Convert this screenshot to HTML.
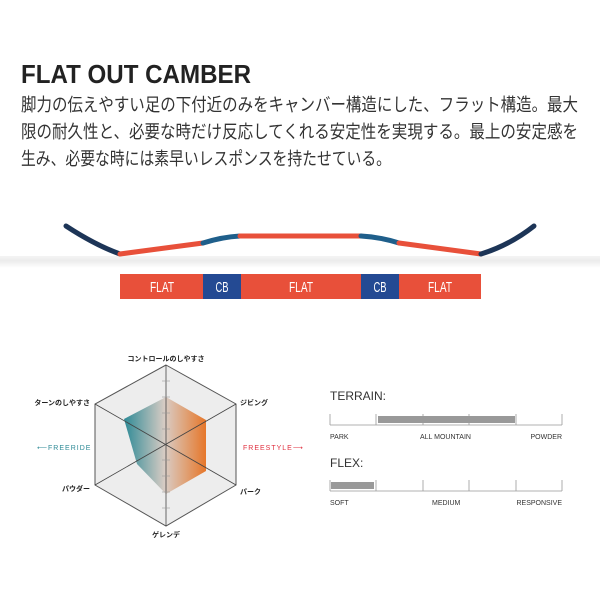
<!DOCTYPE html>
<html><head><meta charset="utf-8"><style>
html,body{margin:0;padding:0;background:#fff;}
svg{display:block;}
</style></head><body>
<svg width="600" height="600" viewBox="0 0 600 600" xmlns="http://www.w3.org/2000/svg">
<defs>
<linearGradient id="g" x1="124" y1="0" x2="206" y2="0" gradientUnits="userSpaceOnUse">
<stop offset="0" stop-color="#2e8a96"/>
<stop offset="0.5" stop-color="#d9ccc4"/>
<stop offset="1" stop-color="#e6772a"/>
</linearGradient>
<linearGradient id="sh" x1="0" y1="0" x2="0" y2="1">
<stop offset="0" stop-color="#f4f4f4"/><stop offset="0.4" stop-color="#ececec"/><stop offset="1" stop-color="#fff"/>
</linearGradient>
</defs>
<g font-family="'Liberation Sans','Noto Sans CJK JP',sans-serif">
<text x="21" y="83" font-size="26" font-weight="bold" fill="#222" textLength="230" lengthAdjust="spacingAndGlyphs">FLAT OUT CAMBER</text>
<g font-size="18" fill="#333">
<text x="21" y="111" textLength="557" lengthAdjust="spacingAndGlyphs">脚力の伝えやすい足の下付近のみをキャンバー構造にした、フラット構造。最大</text>
<text x="21" y="138" textLength="557" lengthAdjust="spacingAndGlyphs">限の耐久性と、必要な時だけ反応してくれる安定性を実現する。最上の安定感を</text>
<text x="21" y="165" textLength="370" lengthAdjust="spacingAndGlyphs">生み、必要な時には素早いレスポンスを持たせている。</text>
</g>
</g>
<!-- board profile -->
<rect x="0" y="256" width="600" height="12" fill="url(#sh)"/>
<g fill="none" stroke-width="5" stroke-linecap="round">
<path d="M66,226 Q95,245 120,254" stroke="#1d3557"/>
<path d="M120,254 L203,243" stroke="#e8503a"/>
<path d="M203,243 Q222,237 240,236" stroke="#1f5f8b"/>
<path d="M240,236 L361,236" stroke="#e8503a"/>
<path d="M361,236 Q380,237 399,243" stroke="#1f5f8b"/>
<path d="M399,243 L481,254" stroke="#e8503a"/>
<path d="M481,254 Q510,245 534,226" stroke="#1d3557"/>
</g>
<g font-family="'Liberation Sans',sans-serif" font-size="15" fill="#fff" text-anchor="middle">
<rect x="120" y="274" width="83" height="25" fill="#e8503a"/>
<rect x="203" y="274" width="38" height="25" fill="#244a93"/>
<rect x="241" y="274" width="120" height="25" fill="#e8503a"/>
<rect x="361" y="274" width="38" height="25" fill="#244a93"/>
<rect x="399" y="274" width="82" height="25" fill="#e8503a"/>
<text x="162" y="292" textLength="24" lengthAdjust="spacingAndGlyphs">FLAT</text>
<text x="222" y="292" textLength="13" lengthAdjust="spacingAndGlyphs">CB</text>
<text x="301" y="292" textLength="24" lengthAdjust="spacingAndGlyphs">FLAT</text>
<text x="380" y="292" textLength="13" lengthAdjust="spacingAndGlyphs">CB</text>
<text x="440" y="292" textLength="24" lengthAdjust="spacingAndGlyphs">FLAT</text>
</g>
<!-- radar -->
<polygon points="166,365 236,404 236,485 166,526 95,485 95,404" fill="#ededed" stroke="#555" stroke-width="1"/>
<polygon points="166,397 206,420 206,471 166,494 137,464 124,419" fill="url(#g)"/>
<g stroke="#444" stroke-width="0.8">
<line x1="166" y1="365" x2="166" y2="526"/>
<line x1="95" y1="404" x2="236" y2="485"/>
<line x1="236" y1="404" x2="95" y2="485"/>
</g>
<g stroke="#999" stroke-width="0.6">
<line x1="162" y1="381" x2="170" y2="381"/><line x1="162" y1="397" x2="170" y2="397"/><line x1="162" y1="413" x2="170" y2="413"/><line x1="162" y1="429" x2="170" y2="429"/>
<line x1="162" y1="460" x2="170" y2="460"/><line x1="162" y1="476" x2="170" y2="476"/><line x1="162" y1="492" x2="170" y2="492"/><line x1="162" y1="508" x2="170" y2="508"/>
</g>
<g font-family="'Liberation Sans','Noto Sans CJK JP',sans-serif" font-size="7" fill="#222" font-weight="bold">
<text x="166" y="361" text-anchor="middle">コントロールのしやすさ</text>
<text x="240" y="405">ジビング</text>
<text x="240" y="494">パーク</text>
<text x="166" y="537" text-anchor="middle">ゲレンデ</text>
<text x="90" y="491" text-anchor="end">パウダー</text>
<text x="90" y="405" text-anchor="end">ターンのしやすさ</text>
<text x="37" y="450" fill="#2e8a96" font-weight="normal" letter-spacing="1">⟵FREERIDE</text>
<text x="243" y="450" fill="#e0303f" font-weight="normal" letter-spacing="1">FREESTYLE⟶</text>
</g>
<!-- terrain / flex -->
<g font-family="'Liberation Sans',sans-serif" fill="#333">
<text x="330" y="400" font-size="12">TERRAIN:</text>
<text x="330" y="467" font-size="12">FLEX:</text>
<g font-size="7">
<text x="330" y="439">PARK</text>
<text x="420" y="439">ALL MOUNTAIN</text>
<text x="562" y="439" text-anchor="end">POWDER</text>
<text x="330" y="505">SOFT</text>
<text x="432" y="505">MEDIUM</text>
<text x="562" y="505" text-anchor="end">RESPONSIVE</text>
</g>
</g>
<g stroke="#999" stroke-width="0.8">
<line x1="330" y1="425" x2="562" y2="425"/>
<line x1="330" y1="414" x2="330" y2="425"/><line x1="376" y1="414" x2="376" y2="425"/><line x1="423" y1="414" x2="423" y2="425"/><line x1="469" y1="414" x2="469" y2="425"/><line x1="516" y1="414" x2="516" y2="425"/><line x1="562" y1="414" x2="562" y2="425"/>
<line x1="330" y1="491" x2="562" y2="491"/>
<line x1="330" y1="480" x2="330" y2="491"/><line x1="376" y1="480" x2="376" y2="491"/><line x1="423" y1="480" x2="423" y2="491"/><line x1="469" y1="480" x2="469" y2="491"/><line x1="516" y1="480" x2="516" y2="491"/><line x1="562" y1="480" x2="562" y2="491"/>
</g>
<rect x="378" y="416" width="137" height="7" fill="#999"/>
<rect x="331" y="482" width="43" height="7" fill="#999"/>
</svg>
</body></html>
